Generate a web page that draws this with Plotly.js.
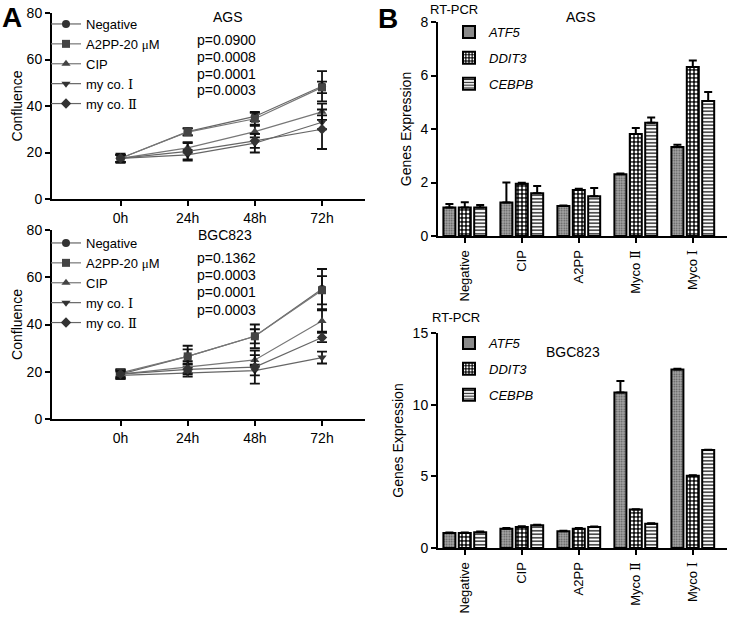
<!DOCTYPE html>
<html>
<head>
<meta charset="utf-8">
<script src="https://cdn.plot.ly/plotly-3.0.1.min.js"></script>
<style>html,body{margin:0;padding:0;background:#fff;}#plot{width:729px;height:617px;}</style>
</head>
<body>
<div id="plot"></div>
<script>
// ---------- Panel A data (Confluence) ----------
const timePoints = ["0h", "24h", "48h", "72h"];
const seriesNames = ["Negative", "A2PP-20 <span style='font-family:Liberation Serif'>\u03bc</span>M", "CIP",
  "my co. <span style='font-family:DejaVu Serif'>\u2160</span>", "my co. <span style='font-family:DejaVu Serif'>\u2161</span>"];
const seriesSymbols = ["circle", "square", "triangle-up", "triangle-down", "diamond"];

const agsNegative = [17.5, 29.0, 35.5, 48.5];
const agsA2PP     = [17.5, 28.8, 34.5, 48.0];
const agsCIP      = [17.5, 22.0, 29.0, 37.5];
const agsMyCoI    = [17.5, 19.0, 24.0, 33.0];
const agsMyCoII   = [17.5, 20.5, 25.0, 30.0];
const agsNegativeErr = [1.5, 1.5, 2.0, 6.5];
const agsA2PPErr     = [2.0, 1.5, 2.5, 2.5];
const agsCIPErr      = [1.5, 2.0, 2.5, 3.5];
const agsMyCoIErr    = [1.5, 2.0, 4.0, 3.0];
const agsMyCoIIErr   = [1.5, 4.0, 3.0, 8.5];
const agsPValues = ["p=0.0900", "p=0.0008", "p=0.0001", "p=0.0003"];

const bgcNegative = [19.0, 26.5, 35.0, 55.0];
const bgcA2PP     = [19.5, 26.5, 35.0, 54.5];
const bgcCIP      = [19.0, 22.0, 25.0, 41.5];
const bgcMyCoI    = [18.5, 19.5, 20.5, 26.0];
const bgcMyCoII   = [19.0, 21.0, 22.0, 34.5];
const bgcNegativeErr = [2.0, 4.5, 5.0, 8.5];
const bgcA2PPErr     = [1.5, 3.0, 3.0, 6.0];
const bgcCIPErr      = [1.5, 2.5, 2.0, 4.5];
const bgcMyCoIErr    = [1.5, 1.5, 2.0, 2.5];
const bgcMyCoIIErr   = [1.5, 2.0, 7.0, 2.0];
const bgcPValues = ["p=0.1362", "p=0.0003", "p=0.0001", "p=0.0003"];

// ---------- Panel B data (RT-PCR) ----------
const groups = ["Negative", "CIP", "A2PP", "MycoII", "MycoI"];
const groupLabels = ["Negative", "CIP", "A2PP", "Myco <span style='font-family:DejaVu Serif'>\u2161</span>", "Myco <span style='font-family:DejaVu Serif'>\u2160</span>"];
const genes = ["ATF5", "DDIT3", "CEBPB"];

const agsATF5  = [1.07, 1.25, 1.12, 2.31, 3.33];
const agsDDIT3 = [1.07, 1.95, 1.72, 3.81, 6.32];
const agsCEBPB = [1.07, 1.60, 1.49, 4.23, 5.05];
const agsATF5Err  = [0.13, 0.75, 0.02, 0.03, 0.08];
const agsDDIT3Err = [0.19, 0.04, 0.05, 0.23, 0.24];
const agsCEBPBErr = [0.09, 0.27, 0.30, 0.20, 0.33];

const bgcATF5  = [1.05, 1.35, 1.17, 10.85, 12.45];
const bgcDDIT3 = [1.05, 1.47, 1.35, 2.68, 5.04];
const bgcCEBPB = [1.10, 1.58, 1.47, 1.70, 6.83];
const bgcATF5Err  = [0.04, 0.04, 0.03, 0.80, 0.05];
const bgcDDIT3Err = [0.03, 0.04, 0.04, 0.03, 0.03];
const bgcCEBPBErr = [0.05, 0.04, 0.03, 0.03, 0.03];

// ---------- styling ----------
const FONT = "Liberation Sans, Arial, sans-serif";
const markerColors = ["#333", "#444", "#444", "#333", "#333"];
const lineColors = ["#666", "#777", "#777", "#666", "#666"];

function lineTraces(vals, errs, xa, ya, legendName) {
  return vals.map((v, i) => ({
    type: "scatter", mode: "lines+markers",
    x: timePoints, y: v, xaxis: xa, yaxis: ya,
    name: seriesNames[i], legend: legendName,
    line: {color: lineColors[i], width: 1.2},
    marker: {symbol: seriesSymbols[i], size: 8, color: markerColors[i]},
    error_y: {type: "data", array: errs[i], visible: true, color: "#111", thickness: 1.8, width: 5}
  }));
}

const patterns = [
  {shape: ".", bgcolor: "#a8a8a8", fgcolor: "#555", size: 2.5, solidity: 0.35},
  {shape: ".", bgcolor: "#111", fgcolor: "#fff", size: 4, solidity: 0.4},
  {shape: "-", bgcolor: "#fff", fgcolor: "#222", size: 3.5, solidity: 0.4}
];

function barTraces(vals, errs, xa, ya, legendName, tag) {
  return vals.map((v, i) => ({
    type: "bar", x: groups, y: v, xaxis: xa, yaxis: ya,
    name: "<i>" + genes[i] + "</i>", legend: legendName, legendgroup: tag + genes[i],
    marker: {color: patterns[i].bgcolor, pattern: patterns[i], line: {color: "#000", width: 2}},
    error_y: {type: "data", symmetric: false, array: errs[i], arrayminus: v.map(() => 0), visible: true,
              color: "#000", thickness: 2, width: 4}
  }));
}

const data = [
  ...lineTraces([agsNegative, agsA2PP, agsCIP, agsMyCoI, agsMyCoII],
                [agsNegativeErr, agsA2PPErr, agsCIPErr, agsMyCoIErr, agsMyCoIIErr], "x", "y", "legend"),
  ...lineTraces([bgcNegative, bgcA2PP, bgcCIP, bgcMyCoI, bgcMyCoII],
                [bgcNegativeErr, bgcA2PPErr, bgcCIPErr, bgcMyCoIErr, bgcMyCoIIErr], "x2", "y2", "legend2"),
  ...barTraces([agsATF5, agsDDIT3, agsCEBPB], [agsATF5Err, agsDDIT3Err, agsCEBPBErr], "x3", "y3", "legend3", "a"),
  ...barTraces([bgcATF5, bgcDDIT3, bgcCEBPB], [bgcATF5Err, bgcDDIT3Err, bgcCEBPBErr], "x4", "y4", "legend4", "b")
];

const W = 729, H = 617;
const px = v => v / W, py = v => 1 - v / H;

const tickFont = {family: FONT, size: 14, color: "#000"};
const axCommon = {showline: true, linecolor: "#000", linewidth: 2, ticks: "outside", ticklen: 5, tickwidth: 2,
  tickcolor: "#000", showgrid: false, zeroline: false, tickfont: tickFont, fixedrange: true};

const xA = Object.assign({}, axCommon, {type: "category", range: [-1.02, 3.64]});
const xB = Object.assign({}, axCommon, {type: "category", range: [-0.47, 4.6], tickangle: -90,
  tickmode: "array", tickvals: groups, ticktext: groupLabels, ticklabelstandoff: 2,
  tickfont: {family: FONT, size: 13, color: "#000"}});

const legendCommon = {font: {family: FONT, size: 13, color: "#000"}, bgcolor: "rgba(0,0,0,0)",
  xanchor: "left", yanchor: "top", tracegroupgap: 0};

const annFont = {family: FONT, size: 14, color: "#000"};
function ann(text, x, y, xanchor, font, yanchor) {
  return {text: text, x: px(x), y: py(y), xref: "paper", yref: "paper", xanchor: xanchor || "center",
    yanchor: yanchor || "middle", showarrow: false, font: font || annFont};
}
const annotations = [
  ann("<b>A</b>", 0, 0, "left", {family: FONT, size: 28}, "top"),
  ann("<b>B</b>", 376, 1, "left", {family: FONT, size: 28}, "top"),
  ann("AGS", 228, 17),
  ann("BGC823", 225, 235),
  ann("RT-PCR", 454, 10, "center", {family: FONT, size: 13}),
  ann("AGS", 581, 17),
  ann("RT-PCR", 456, 318, "center", {family: FONT, size: 13}),
  ann("BGC823", 573, 352)
];
agsPValues.forEach((t, i) => annotations.push(ann(t, 195, 40 + i * 16.8, "left")));
bgcPValues.forEach((t, i) => annotations.push(ann(t, 195, 258 + i * 17.2, "left")));

const layout = {
  width: W, height: H, margin: {l: 0, r: 0, t: 0, b: 0},
  paper_bgcolor: "#fff", plot_bgcolor: "rgba(0,0,0,0)",
  font: {family: FONT, size: 14, color: "#000"},
  barmode: "group", bargap: 0.19, bargroupgap: 0.22,
  xaxis: Object.assign({}, xA, {domain: [px(52), px(365)], anchor: "y"}),
  yaxis: Object.assign({}, axCommon, {domain: [py(199), py(13)], range: [0, 80], dtick: 20, anchor: "x",
    title: {text: "Confluence", font: {family: FONT, size: 14}, standoff: 1}}),
  xaxis2: Object.assign({}, xA, {domain: [px(52), px(365)], anchor: "y2"}),
  yaxis2: Object.assign({}, axCommon, {domain: [py(419), py(230)], range: [0, 80], dtick: 20, anchor: "x2",
    title: {text: "Confluence", font: {family: FONT, size: 14}, standoff: 1}}),
  xaxis3: Object.assign({}, xB, {domain: [px(438), px(727)], anchor: "y3"}),
  yaxis3: Object.assign({}, axCommon, {domain: [py(236), py(22)], range: [0, 8], dtick: 2, anchor: "x3",
    title: {text: "Genes Expression", font: {family: FONT, size: 14}, standoff: 6}}),
  xaxis4: Object.assign({}, xB, {domain: [px(438), px(727)], anchor: "y4"}),
  yaxis4: Object.assign({}, axCommon, {domain: [py(548), py(333)], range: [0, 15], dtick: 5, anchor: "x4",
    title: {text: "Genes Expression", font: {family: FONT, size: 14}, standoff: 6}}),
  legend: Object.assign({}, legendCommon, {x: px(46), y: py(9)}),
  legend2: Object.assign({}, legendCommon, {x: px(46), y: py(228)}),
  legend3: Object.assign({}, legendCommon, {x: px(449), y: py(17), traceorder: "grouped", tracegroupgap: 6}),
  legend4: Object.assign({}, legendCommon, {x: px(449), y: py(328), traceorder: "grouped", tracegroupgap: 6}),
  annotations: annotations,
  showlegend: true
};

Plotly.newPlot("plot", data, layout, {staticPlot: true, displayModeBar: false});
</script>
</body>
</html>
